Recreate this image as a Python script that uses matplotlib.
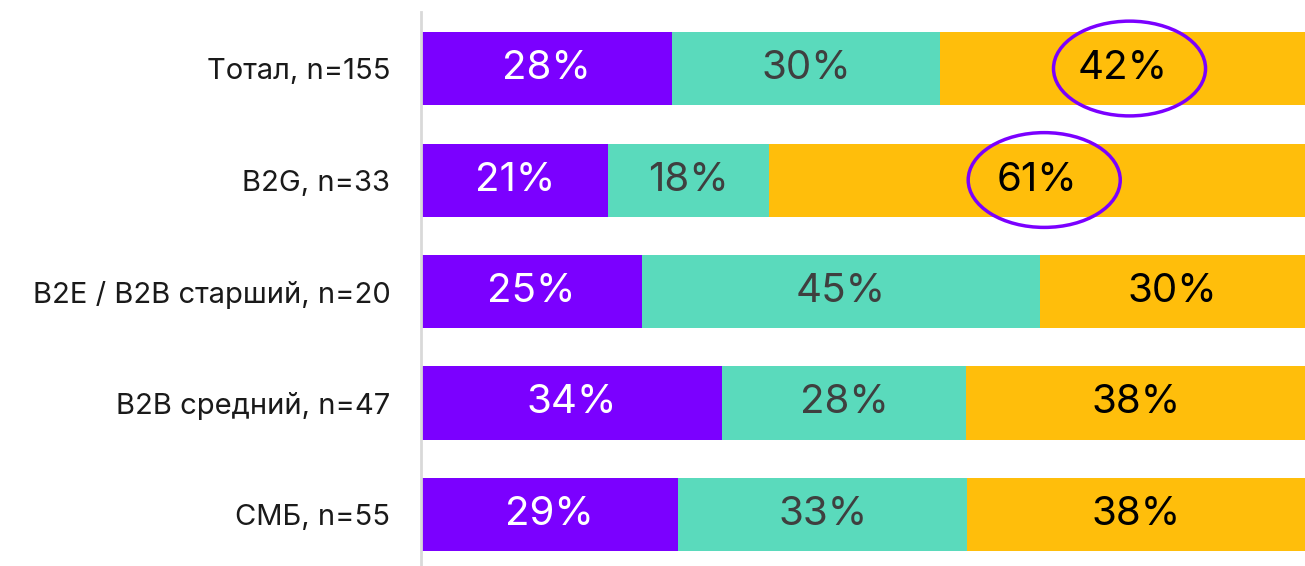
import matplotlib.pyplot as plt
from matplotlib.patches import Ellipse

# data (shares in %)
categories = ["Тотал, n=155", "B2G, n=33", "B2E / B2B старший, n=20",
              "B2B средний, n=47", "СМБ, n=55"]
purple_vals = [28.4, 21.2, 25.0, 34.0, 29.1]
teal_vals = [30.3, 18.2, 45.0, 27.7, 32.7]
yellow_vals = [41.3, 60.6, 30.0, 38.3, 38.2]
purple_labels = ["28%", "21%", "25%", "34%", "29%"]
teal_labels = ["30%", "18%", "45%", "28%", "33%"]
yellow_labels = ["42%", "61%", "30%", "38%", "38%"]
circled = [0, 1]  # rows where the yellow label is circled

PURPLE = "#7B00FF"
TEAL = "#5ADABC"
YELLOW = "#FFBE0B"

plt.rcParams['font.family'] = ['Inter', 'DejaVu Sans']

fig = plt.figure(figsize=(13.05, 5.66), dpi=100)
ax = fig.add_axes([421 / 1305, 0, 1 - 421 / 1305, 1 - 12 / 566])

y = list(range(len(categories)))
h = 0.655
ax.barh(y, purple_vals, height=h, color=PURPLE)
ax.barh(y, teal_vals, left=purple_vals, height=h, color=TEAL)
left3 = [a + b for a, b in zip(purple_vals, teal_vals)]
ax.barh(y, yellow_vals, left=left3, height=h, color=YELLOW)

for i in y:
    ax.text(purple_vals[i] / 2, i, purple_labels[i], ha="center", va="center",
            color="white", fontsize=29)
    ax.text(purple_vals[i] + teal_vals[i] / 2, i, teal_labels[i], ha="center",
            va="center", color="#3F3F3F", fontsize=29)
    ax.text(left3[i] + yellow_vals[i] / 2, i, yellow_labels[i], ha="center",
            va="center", color="black", fontsize=29)

for i in circled:
    cx = left3[i] + yellow_vals[i] / 2 + 0.8
    ax.add_patch(Ellipse((cx, i), 17.2, 0.85, fill=False, edgecolor=PURPLE,
                         linewidth=2.5))

ax.set_xlim(0, 100)
ax.set_ylim(4.462, -0.507)
ax.set_yticks(y)
ax.set_yticklabels(categories, fontsize=21, color="#1A1A1A")
ax.tick_params(axis="y", length=0, pad=22)
ax.set_xticks([])
for s in ["top", "right", "bottom"]:
    ax.spines[s].set_visible(False)
ax.spines["left"].set_color("#D9D9D9")
ax.spines["left"].set_linewidth(2)

fig.savefig("out.png", dpi=100)
